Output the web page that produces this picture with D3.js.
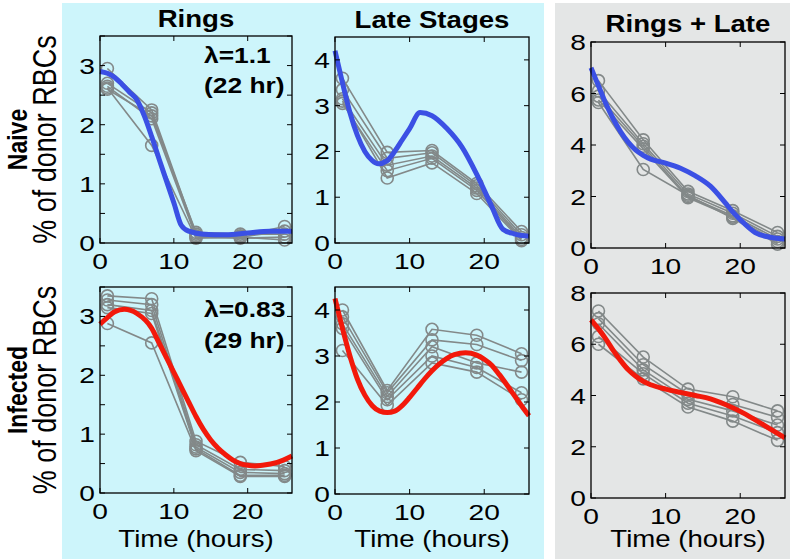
<!DOCTYPE html>
<html>
<head>
<meta charset="utf-8">
<script src="https://cdn.jsdelivr.net/npm/d3@7"></script>
<style>
  body { margin: 0; background: #fff; }
  svg text { font-family: "Liberation Sans", Arial, Helvetica, sans-serif; fill: #000; }
</style>
</head>
<body>
<div id="chart"></div>
<script>
// sampling times (hours) of the donor mice
const times = [1, 7, 13, 19, 25]
const xTicks = [0, 10, 20]

// one array per mouse, values at `times` (% of donor RBCs)
const naiveRings = [
  [2.95, 2.25, 0.15, 0.12, 0.28],
  [2.70, 2.20, 0.12, 0.10, 0.20],
  [2.65, 2.10, 0.10, 0.08, 0.10],
  [2.60, 2.15, 0.18, 0.15, 0.15],
  [2.62, 1.65, 0.08, 0.10, 0.05]
]
const naiveLate = [
  [3.60, 1.98, 2.02, 1.30, 0.25],
  [3.35, 1.85, 1.97, 1.25, 0.18],
  [3.15, 1.70, 1.90, 1.20, 0.12],
  [3.05, 1.58, 1.85, 1.15, 0.08],
  [3.10, 1.42, 1.75, 1.08, 0.05]
]
const naiveTotal = [
  [6.50, 4.20, 2.20, 1.45, 0.60],
  [6.10, 4.05, 2.10, 1.35, 0.45],
  [5.90, 3.95, 2.00, 1.25, 0.35],
  [5.75, 3.85, 1.95, 1.20, 0.25],
  [5.65, 3.05, 2.05, 1.15, 0.15]
]
const infRings = [
  [3.35, 3.30, 0.88, 0.52, 0.45],
  [3.28, 3.20, 0.82, 0.40, 0.38],
  [3.20, 3.10, 0.78, 0.35, 0.33],
  [3.15, 3.05, 0.75, 0.30, 0.30],
  [2.88, 2.55, 0.72, 0.28, 0.28]
]
const infLate = [
  [4.00, 2.25, 3.58, 3.45, 3.05],
  [3.85, 2.20, 3.35, 3.25, 2.90],
  [3.70, 2.12, 3.20, 2.85, 2.65],
  [3.60, 2.05, 3.00, 2.75, 2.20],
  [3.12, 1.93, 2.85, 2.65, 2.05]
]
const infTotal = [
  [7.30, 5.50, 4.25, 3.95, 3.40],
  [7.00, 5.20, 4.05, 3.65, 3.15],
  [6.80, 5.00, 3.85, 3.40, 2.85],
  [6.30, 4.85, 3.70, 3.20, 2.55],
  [6.00, 4.65, 3.55, 3.00, 2.25]
]

// model fits, [hour, value]
const naiveRingsFit = [[0,2.9],[1,2.87],[2,2.8],[3,2.68],[4,2.55],[5,2.42],[6,2.15],[7,1.8],[8,1.42],[9,1.05],[10,0.68],[11,0.3],[12,0.2],[14,0.15],[17,0.14],[20,0.17],[23,0.2],[26,0.2]]
const naiveLateFit = [[0,4.2],[1,3.5],[2,2.85],[3,2.35],[4,2.0],[5,1.8],[5.8,1.73],[7,1.8],[8,2.0],[9,2.25],[10,2.5],[11.4,2.85],[13,2.78],[15,2.5],[17,2.1],[19,1.5],[21,0.8],[22.5,0.3],[24,0.2],[26,0.15]]
const naiveTotalFit = [[0,7.0],[1,6.3],[2,5.6],[3,5.0],[4,4.5],[5,4.1],[6,3.8],[7,3.6],[8,3.45],[10,3.3],[12,3.1],[14,2.8],[16,2.4],[18,1.75],[19,1.4],[20,1.1],[22,0.6],[24,0.42],[26,0.35]]
const infRingsFit = [[0,2.87],[1,2.98],[2,3.08],[3.3,3.12],[5,3.05],[7,2.8],[8,2.55],[9,2.3],[10,2.05],[11,1.8],[12,1.55],[13,1.3],[14,1.08],[15,0.9],[16,0.76],[17,0.65],[18,0.56],[19,0.5],[20,0.47],[21,0.46],[22,0.47],[24,0.52],[26,0.63]]
const infLateFit = [[0,4.25],[1,3.6],[2,3.0],[3,2.5],[4,2.15],[5,1.92],[6,1.8],[7,1.77],[8,1.8],[9,1.92],[10,2.1],[11,2.3],[12,2.5],[13,2.68],[14,2.83],[15,2.95],[16,3.03],[17.5,3.07],[19,3.02],[20,2.93],[21,2.8],[22,2.6],[23,2.38],[24,2.15],[25,1.92],[26,1.7]]
const infTotalFit = [[0,6.95],[1,6.6],[2,6.2],[3,5.75],[4,5.35],[5,5.0],[6,4.75],[7,4.55],[8,4.42],[10,4.25],[12,4.12],[14,4.0],[16,3.87],[18,3.65],[20,3.38],[22,3.05],[24,2.7],[26,2.35]]

// y ticks
const ringsTicks = [0, 0.5, 1, 1.5, 2, 2.5, 3, 3.5]
const ringsLabels = [0, 1, 2, 3]
const lateTicks = [0, 1, 2, 3, 4]
const totalTicks = [0, 2, 4, 6, 8]

const colTitles = ['Rings', 'Late Stages', 'Rings + Late']
const rowNames = ['Naive', 'Infected']
const lambdaText = [['λ=1.1', '(22 hr)'], ['λ=0.83', '(29 hr)']]

const blue = '#3b50e4'
const red = '#f2190b'
const grey = '#838989'

let W = 793, H = 559
// the source figure is stretched sideways, so text gets a wider look
let SX = 1.2

d3.selectAll('svg').remove()
let svg = d3.select('div#chart').append('svg')
  .attr('width', W).attr('height', H)

function label(parent, x, y, str, size, anchor, bold, sx) {
  return parent.append('text')
    .attr('transform', `translate(${x},${y}) scale(${sx || SX},1)`)
    .attr('text-anchor', anchor)
    .attr('font-size', size)
    .attr('font-weight', bold ? 'bold' : 'normal')
    .text(str)
}

// background panels
svg.append('rect').attr('x', 62).attr('y', 3).attr('width', 482).attr('height', H - 3)
  .attr('fill', '#cdf5fb')
svg.append('rect').attr('x', 555).attr('y', 3).attr('width', 235).attr('height', H - 3)
  .attr('fill', '#e4e6e6')

let panels = [
  {row: 0, col: 0, l: 100, t: 36, w: 192, h: 207, ymax: 3.5, ticks: ringsTicks, labels: ringsLabels, reps: naiveRings, fit: naiveRingsFit, color: blue},
  {row: 0, col: 1, l: 335, t: 37, w: 194, h: 206, ymax: 4.5, ticks: lateTicks, labels: lateTicks, reps: naiveLate, fit: naiveLateFit, color: blue},
  {row: 0, col: 2, l: 591, t: 42, w: 194, h: 206, ymax: 8, ticks: totalTicks, labels: totalTicks, reps: naiveTotal, fit: naiveTotalFit, color: blue},
  {row: 1, col: 0, l: 100, t: 287, w: 192, h: 206, ymax: 3.5, ticks: ringsTicks, labels: ringsLabels, reps: infRings, fit: infRingsFit, color: red},
  {row: 1, col: 1, l: 335, t: 287, w: 194, h: 207, ymax: 4.5, ticks: lateTicks, labels: lateTicks, reps: infLate, fit: infLateFit, color: red},
  {row: 1, col: 2, l: 591, t: 293, w: 194, h: 205, ymax: 8, ticks: totalTicks, labels: totalTicks, reps: infTotal, fit: infTotalFit, color: red}
]

panels.forEach(p => {
  let g = svg.append('g').attr('transform', `translate(${p.l},${p.t})`)
  let x = d3.scaleLinear().domain([0, 26]).range([0, p.w])
  let y = d3.scaleLinear().domain([0, p.ymax]).range([p.h, 0])

  let repLine = d3.line().x((d, i) => x(times[i])).y(d => y(d))
  g.selectAll('path.rep').data(p.reps).enter().append('path')
    .attr('class', 'rep')
    .attr('d', repLine)
    .attr('fill', 'none').attr('stroke', grey).attr('stroke-width', 1.6)

  let pts = p.reps.flatMap(r => r.map((v, i) => ({t: times[i], v})))
  g.selectAll('circle').data(pts).enter().append('circle')
    .attr('cx', d => x(d.t)).attr('cy', d => y(d.v)).attr('r', 6)
    .attr('fill', 'none').attr('stroke', grey).attr('stroke-width', 1.6)

  let fitLine = d3.line().x(d => x(d[0])).y(d => y(d[1])).curve(d3.curveMonotoneX)
  g.append('path').attr('d', fitLine(p.fit))
    .attr('fill', 'none').attr('stroke', p.color).attr('stroke-width', 5)
    .attr('stroke-linejoin', 'round')

  // box + inward ticks
  g.append('rect').attr('width', p.w).attr('height', p.h)
    .attr('fill', 'none').attr('stroke', '#000').attr('stroke-width', 1.3)
  let tl = 5
  p.ticks.forEach(v => {
    g.append('line').attr('x1', 0).attr('x2', tl).attr('y1', y(v)).attr('y2', y(v)).attr('stroke', '#000')
    g.append('line').attr('x1', p.w).attr('x2', p.w - tl).attr('y1', y(v)).attr('y2', y(v)).attr('stroke', '#000')
  })
  xTicks.forEach(v => {
    g.append('line').attr('x1', x(v)).attr('x2', x(v)).attr('y1', p.h).attr('y2', p.h - tl).attr('stroke', '#000')
    g.append('line').attr('x1', x(v)).attr('x2', x(v)).attr('y1', 0).attr('y2', tl).attr('stroke', '#000')
  })

  // tick labels
  p.labels.forEach(v => label(g, -5, y(v) + 8, v, 22, 'end', false, 1.28))
  xTicks.forEach(v => label(g, x(v), p.h + 26, v, 22, 'middle', false, 1.28))

  if (p.row === 0) {
    label(g, p.w / 2, p.t === 42 ? -10 : -9, colTitles[p.col], 23, 'middle', true)
  } else {
    label(g, p.w / 2, 547 - p.t, 'Time (hours)', 23, 'middle', false)
  }

  if (p.col === 0) {
    let cy = p.t + p.h / 2
    svg.append('text').attr('transform', `translate(27,${cy}) scale(${SX},1) rotate(-90)`)
      .attr('text-anchor', 'middle').attr('font-size', 23).attr('font-weight', 'bold')
      .text(rowNames[p.row])
    svg.append('text').attr('transform', `translate(56,${cy}) scale(${SX},1) rotate(-90)`)
      .attr('text-anchor', 'middle').attr('font-size', 27)
      .text('% of donor RBCs')
    let lt = lambdaText[p.row]
    label(g, 104, p.row === 0 ? 27 : 30, lt[0], 22, 'start', true)
    label(g, 104, p.row === 0 ? 57 : 61, lt[1], 22, 'start', true)
  }
})
</script>
</body>
</html>
